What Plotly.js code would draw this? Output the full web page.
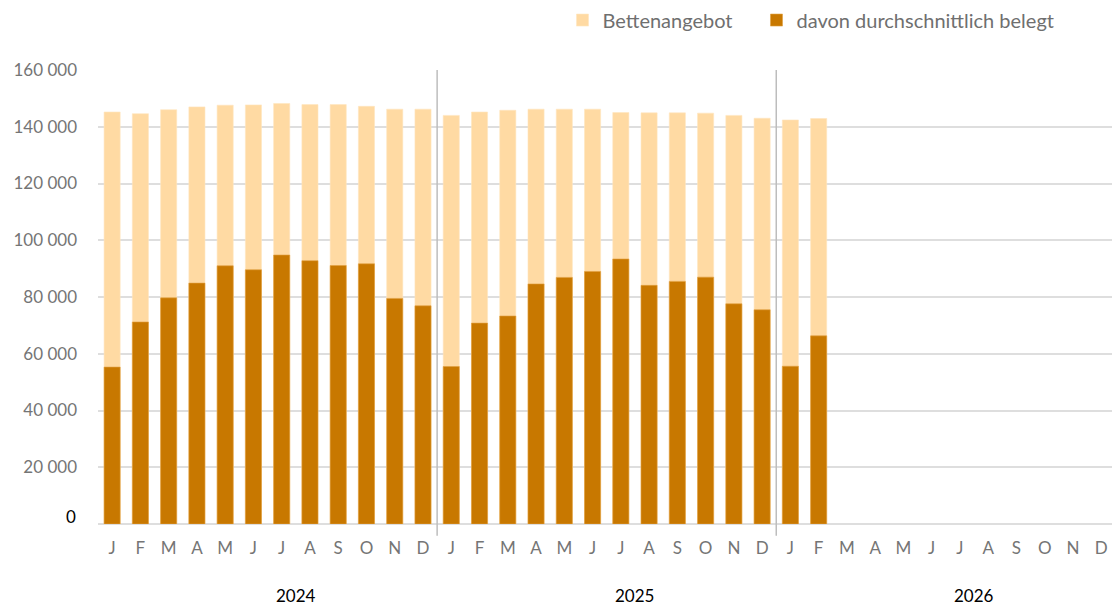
<!DOCTYPE html>
<html>
<head>
<meta charset="utf-8">
<script src="https://cdn.plot.ly/plotly-3.0.1.min.js"></script>
<style>html,body{margin:0;padding:0;background:#fff;}#chart{width:1112px;height:606px;}</style>
</head>
<body>
<div id="chart"></div>
<script>
const years = ["2024", "2025", "2026"];
const monthLetters = ["J","F","M","A","M","J","J","A","S","O","N","D"];
const seriesNames = ["Bettenangebot", "davon durchschnittlich belegt"];

const bettenangebot = [
  145200, 144600, 146000, 147000, 147600, 147700, 148200, 147800, 147800, 147200, 146200, 146200,
  144000, 145200, 145800, 146200, 146200, 146200, 145000, 144900, 144900, 144800, 144000, 143000,
  142400, 142900, null, null, null, null, null, null, null, null, null, null
];
const belegt = [
  55300, 71200, 79700, 84900, 91000, 89600, 94800, 92800, 91100, 91700, 79500, 76900,
  55500, 70800, 73300, 84600, 86900, 89000, 93400, 84100, 85500, 87000, 77600, 75500,
  55600, 66300, null, null, null, null, null, null, null, null, null, null
];

const yTickVals = [0, 20000, 40000, 60000, 80000, 100000, 120000, 140000, 160000];
const yTickText = ["", "20 000", "40 000", "60 000", "80 000", "100 000", "120 000", "140 000", "160 000"];
const zeroLabel = "0";

const xIdx = [];
const xLabels = [];
years.forEach((y, yi) => monthLetters.forEach((m, mi) => { xIdx.push(yi * 12 + mi); xLabels.push(m); }));

const FONT = "Lato, 'Source Sans Pro', 'Noto Sans', sans-serif";
const LIGHT = "#FFDAA3";
const DARK = "#C87800";

const traces = [
  { type: "bar", name: seriesNames[0], x: xIdx, y: bettenangebot, width: 0.57, legend: "legend",
    marker: { color: LIGHT, line: { color: "#FFE6C0", width: 0.6 } }, hoverinfo: "y" },
  { type: "bar", name: seriesNames[1], x: xIdx, y: belegt, width: 0.57, legend: "legend2",
    marker: { color: DARK, line: { color: "#E0A040", width: 0.6 } }, hoverinfo: "y" }
];

const shapes = [];
for (let i = 1; i < years.length; i++) {
  shapes.push({ type: "line", xref: "x", yref: "paper", x0: i * 12 - 0.5, x1: i * 12 - 0.5, y0: -0.026, y1: 1,
    line: { color: "#BDBDBD", width: 1.5 }, layer: "above" });
}
const annotations = years.map((y, i) => ({
  text: y, xref: "x", yref: "paper", x: i * 12 + 6.5, y: -0.157, yanchor: "middle", xanchor: "center",
  showarrow: false, font: { family: FONT, size: 17, color: "#000" }
}));
annotations.push({
  text: zeroLabel, xref: "paper", yref: "y", x: 0, y: yTickVals[0], xanchor: "right", yanchor: "middle",
  xshift: -20, yshift: 8, showarrow: false, font: { family: FONT, size: 17, color: "#000" }
});

const legendBase = { orientation: "h", xanchor: "left", yanchor: "middle", y: 1.11,
  font: { family: FONT, size: 20, color: "#6f6f6f" }, bgcolor: "rgba(0,0,0,0)" };

const layout = {
  width: 1112, height: 606,
  margin: { l: 98, r: 0, t: 70, b: 82 },
  paper_bgcolor: "#fff", plot_bgcolor: "#fff",
  barmode: "overlay",
  font: { family: FONT, size: 17, color: "#757575" },
  showlegend: true,
  legend: Object.assign({}, legendBase, { x: 0.4581 }),
  legend2: Object.assign({}, legendBase, { x: 0.6494 }),
  xaxis: { range: [-0.5, 35.38], tickmode: "array", tickvals: xIdx, ticktext: xLabels,
    showgrid: false, zeroline: false, showline: false, ticks: "", ticklabelstandoff: 12,
    tickfont: { family: FONT, size: 17, color: "#757575" }, fixedrange: true },
  yaxis: { range: [0, 160000], tickmode: "array", tickvals: yTickVals, ticktext: yTickText,
    showgrid: true, gridcolor: "#DEDEDE", gridwidth: 2, zeroline: true, zerolinecolor: "#DEDEDE", zerolinewidth: 2,
    showline: false, ticks: "", ticklabelstandoff: 20,
    tickfont: { family: FONT, size: 17, color: "#757575" }, fixedrange: true },
  shapes: shapes,
  annotations: annotations
};

Plotly.newPlot("chart", traces, layout, { displayModeBar: false, staticPlot: true });
</script>
</body>
</html>
